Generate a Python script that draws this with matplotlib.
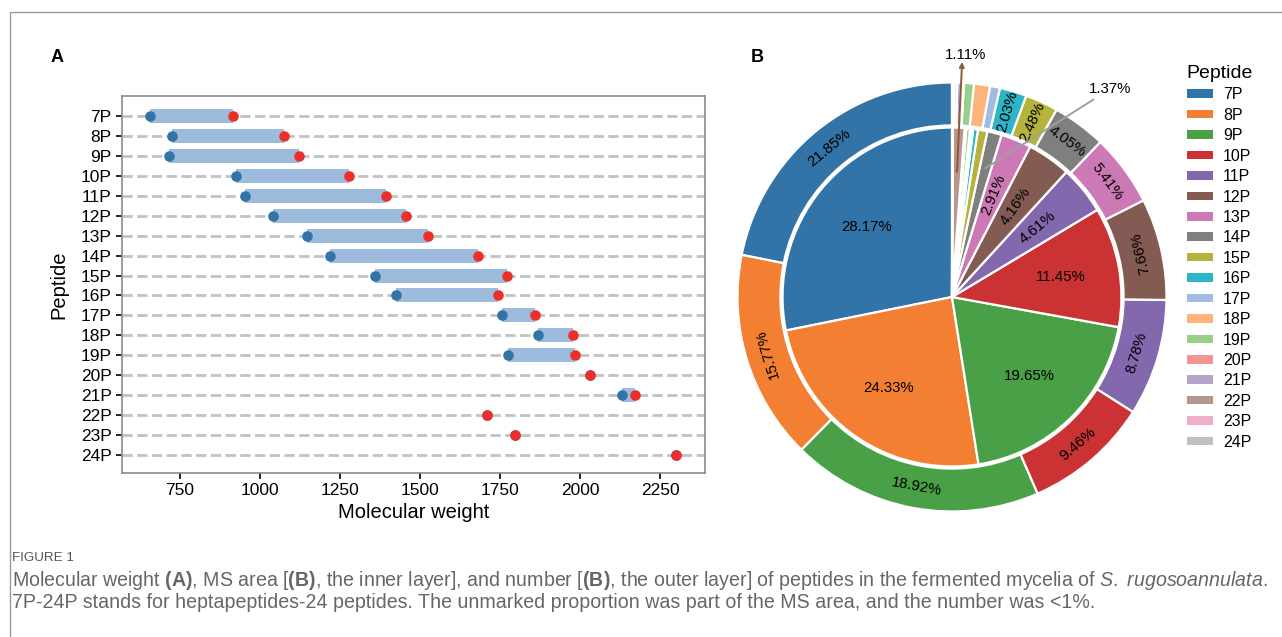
import numpy as np
import matplotlib
matplotlib.use("Agg")
import matplotlib.pyplot as plt
import matplotlib.patches as mpatches

# ---- data ----
peptides = ["7P", "8P", "9P", "10P", "11P", "12P", "13P", "14P", "15P",
            "16P", "17P", "18P", "19P", "20P", "21P", "22P", "23P", "24P"]

mw_min = [658, 726, 717, 925, 955, 1042, 1146, 1219, 1359,
          1425, 1757, 1869, 1776, 2032, 2132, 1709, 1797, 2301]
mw_max = [917, 1076, 1122, 1278, 1393, 1457, 1526, 1682, 1771,
          1745, 1859, 1979, 1985, 2032, 2170, 1709, 1797, 2301]

# inner layer: MS area (%)
ms_area = [28.17, 24.33, 19.65, 11.45, 4.61, 4.16, 2.91, 1.37, 0.90,
           0.45, 0.15, 0.15, 0.35, 0.08, 0.08, 1.11, 0.04, 0.04]
# outer layer: number (%)
number = [21.85, 15.77, 18.92, 9.46, 8.78, 7.66, 5.41, 4.05, 2.48,
          2.03, 0.75, 1.20, 0.75, 0.10, 0.40, 0.20, 0.10, 0.09]

colors = ["#3274a8", "#f37f32", "#4aa047", "#cb3233", "#8468ad", "#845b53",
          "#cd79b5", "#7f7f7f", "#b5b33b", "#2bb5c6", "#a0bddf", "#ffb37a",
          "#96d08a", "#f49491", "#b7a4cc", "#b89690", "#f1aecb", "#c0c0c0"]

W, H = 1282, 637
fam = "Liberation Sans"
plt.rcParams["font.family"] = [fam, "DejaVu Sans"]
plt.rcParams["mathtext.fontset"] = "custom"
plt.rcParams["mathtext.rm"] = fam
plt.rcParams["mathtext.bf"] = fam + ":bold"
plt.rcParams["mathtext.it"] = fam + ":italic"

fig = plt.figure(figsize=(W / 100, H / 100), dpi=100)

# figure frame (top and left edges)
fig.add_artist(mpatches.Rectangle((10 / W, -0.1), 1.2, 1 - 12 / H + 0.1,
                                  transform=fig.transFigure, fill=False,
                                  edgecolor="#9a9a9a", lw=1))

# ---- panel A ----
ax = fig.add_axes([122 / W, 1 - 473 / H, 583 / W, 377 / H])
y = np.arange(len(peptides))
ax.yaxis.grid(True, ls="--", color="#c2c2c2", lw=2.0)
ax.set_axisbelow(True)
ax.barh(y, np.array(mw_max) - np.array(mw_min), left=mw_min, height=0.7,
        color="#9dbbdc", zorder=2)
ax.scatter(mw_min, y, s=58, color="#3274a8", zorder=3, linewidths=0)
ax.scatter(mw_max, y, s=58, color="#ec2f2a", zorder=4, linewidths=0)
ax.set_yticks(y)
ax.set_yticklabels(peptides, fontsize=12.5)
ax.set_xticks([750, 1000, 1250, 1500, 1750, 2000, 2250])
ax.tick_params(axis="x", labelsize=12.5, length=4, width=1.2)
ax.tick_params(axis="y", length=4, width=1.2)
ax.set_xlim(570, 2390)
ax.set_ylim(17.9, -1.0)
for sp in ax.spines.values():
    sp.set_color("#8a8a8a")
    sp.set_linewidth(1.2)
ax.set_xlabel("Molecular weight", fontsize=14.5, labelpad=3)
ax.set_ylabel("Peptide", fontsize=14.5, labelpad=9)
fig.text(57 / W, 1 - 58 / H, "A", fontsize=13, fontweight="bold", ha="center", va="center")
fig.text(757 / W, 1 - 58 / H, "B", fontsize=13, fontweight="bold", ha="center", va="center")

# ---- panel B ----
cx, cy, R = 952, 297, 214.5
ax2 = fig.add_axes([(cx - R) / W, (H - cy - R) / H, 2 * R / W, 2 * R / H])
wp = dict(edgecolor="white", linewidth=1.6)
outer, _ = ax2.pie(number, radius=1.0, colors=colors, startangle=90,
                   counterclock=True, wedgeprops=dict(width=0.2, **wp))
inner, _ = ax2.pie(ms_area, radius=0.79, colors=colors, startangle=90,
                   counterclock=True, wedgeprops=wp)
ax2.set_xlim(-1, 1)
ax2.set_ylim(-1, 1)
ax2.set_aspect("equal")
ax2.axis("off")


def mid_angle(vals, i):
    c = np.cumsum([0] + list(vals))
    return 90 + 360 * (c[i] + c[i + 1]) / 2 / c[-1]


def radial_rot(a):
    r = (a + 180) % 360 - 180
    if r > 90:
        r -= 180
    elif r < -90:
        r += 180
    return r


for i, v in enumerate(number):
    if v < 2:
        continue
    a = mid_angle(number, i)
    x, yy = 0.9 * np.cos(np.radians(a)), 0.9 * np.sin(np.radians(a))
    if v >= 4:
        rot = (a - 90 + 180) % 360 - 180
        if rot < -60 or rot > 150:
            rot = rot + 180 if rot < 0 else rot - 180
    else:
        rot = radial_rot(a)
    ax2.text(x, yy, f"{v:.2f}%", ha="center", va="center", rotation=rot,
             rotation_mode="anchor", fontsize=10.8)

for i, v in enumerate(ms_area):
    if v < 2.5:
        continue
    a = mid_angle(ms_area, i)
    x, yy = 0.515 * np.cos(np.radians(a)), 0.515 * np.sin(np.radians(a))
    rot = 0 if v >= 10 else radial_rot(a)
    ax2.text(x, yy, f"{v:.2f}%", ha="center", va="center", rotation=rot,
             rotation_mode="anchor", fontsize=10.8)

# annotated small inner slices
a14 = np.radians(mid_angle(ms_area, 7))
ax2.annotate(f"{ms_area[7]:.2f}%", xy=(0.62 * np.cos(a14), 0.62 * np.sin(a14)),
             xytext=(0.737, 0.97), ha="center", va="center", fontsize=10.8,
             annotation_clip=False,
             arrowprops=dict(arrowstyle="-", color="#a0a0a0", lw=1.4, shrinkA=1, shrinkB=0))
a22 = np.radians(mid_angle(ms_area, 15))
ax2.text(0.065, 1.128, f"{ms_area[15]:.2f}%", ha="center", va="center", fontsize=10.8)
ax2.annotate("", xy=(0.047, 1.096), xytext=(0.584 * np.cos(a22), 0.584 * np.sin(a22)),
             annotation_clip=False,
             arrowprops=dict(arrowstyle="-|>", color="#8c5a3c", lw=1.4,
                             mutation_scale=7, shrinkA=0, shrinkB=0))

handles = [mpatches.Patch(facecolor=c, edgecolor="none") for c in colors]
fig.legend(handles, peptides, title="Peptide", loc="upper left",
           bbox_to_anchor=(1186 / W, 1 - 65 / H), frameon=False, fontsize=11.5,
           title_fontsize=14, handlelength=1.65, handleheight=0.45,
           labelspacing=0.34, handletextpad=0.6, borderpad=0, borderaxespad=0)

# ---- caption ----
fig.text(12 / W, 1 - 558 / H, "FIGURE 1", fontsize=9.6, color="#555555", va="center")
line1 = (r"Molecular weight $\mathbf{(A)}$, MS area [$\mathbf{(B)}$, the inner layer], "
         r"and number [$\mathbf{(B)}$, the outer layer] of peptides in the fermented "
         r"mycelia of $\mathit{S.}$ $\mathit{rugosoannulata}$.")
line2 = ("7P-24P stands for heptapeptides-24 peptides. The unmarked proportion was "
         "part of the MS area, and the number was <1%.")
t1 = fig.text(12 / W, 1 - 580 / H, line1, fontsize=11, color="#666666", va="center")
t2 = fig.text(12 / W, 1 - 603 / H, line2, fontsize=11, color="#666666", va="center")
rend = fig.canvas.get_renderer()
w1 = t1.get_window_extent(rend).width
fs = 11 * 1254 / w1
t1.set_fontsize(fs)
t2.set_fontsize(fs)

fig.savefig("out.png", dpi=100)
